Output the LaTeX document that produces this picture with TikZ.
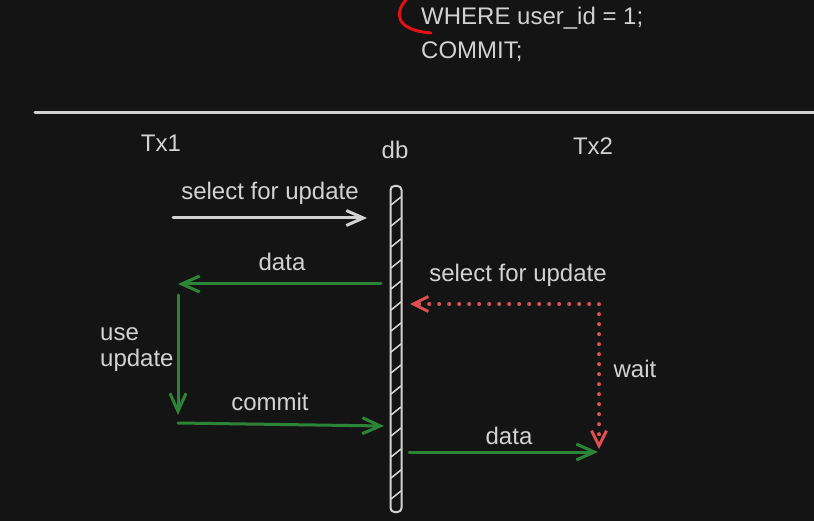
\documentclass[tikz,border=0pt]{standalone}
\usepackage{fontspec}
\setmainfont{Liberation Sans}
\usetikzlibrary{arrows.meta}

\definecolor{board}{HTML}{141414}
\definecolor{chalk}{HTML}{D2D2D2}
\definecolor{txgreen}{HTML}{2C8537}
\definecolor{waitred}{HTML}{E05050}
\definecolor{pen}{HTML}{E01212}

\begin{document}
\begin{tikzpicture}[x=1pt, y=-1pt,
    lbl/.style={text=chalk, font=\fontsize{24}{26}\selectfont, inner sep=0pt},
    msg/.style={-{Straight Barb[length=18pt,width=16pt]}, line width=3pt, txgreen, line cap=round},
    req/.style={-{Straight Barb[length=17pt,width=15pt]}, line width=3pt, chalk, line cap=round},
    waitline/.style={{Straight Barb[length=15pt,width=15pt,line width=3pt]}-{Straight Barb[length=15pt,width=15pt,line width=3pt]}, waitred, line width=4pt, line cap=round, dash pattern=on 0pt off 10pt},
    dbbar/.style={rectangle, rounded corners=4pt, draw=chalk, line width=2pt, fill=board, minimum width=11pt, minimum height=326pt, inner sep=0pt},
    hatch/.style={chalk, line width=1.5pt}
]
    % Board
    \useasboundingbox (0,0) rectangle (814,521);
    \fill[board] (0,0) rectangle (814,521);

    % Query text
    \node[lbl, anchor=west] (where) at (421,18) {WHERE user\_id = 1;};
    \node[lbl, anchor=west] (commitq) at (421,52) {COMMIT;};
    \draw[pen, line width=3pt, line cap=round] (406,0) .. controls (395,12) and (394,30) .. (431,33);

    % Separator
    \draw[chalk, line width=3pt, line cap=round] (35,113) -- (814,113);

    % Actors
    \node[lbl] (tx1) at (161,143) {Tx1};
    \node[lbl] (db) at (395,150) {db};
    \node[lbl] (tx2) at (593,146) {Tx2};

    % Lifeline of db
    \node[dbbar] (bar) at (396,349) {};
    \foreach \y in {205,226,...,505}
        \draw[hatch] (391,\y) -- (401,\y-8);

    % Anchor points
    \coordinate (s1) at (173,218);
    \coordinate (s2) at (367,218);
    \coordinate (d1) at (381,284);
    \coordinate (d2) at (178,284);
    \coordinate (u1) at (178,295);
    \coordinate (u2) at (178,415);
    \coordinate (c1) at (178,423);
    \coordinate (c2) at (384,426);
    \coordinate (w1) at (599,449);
    \coordinate (w2) at (599,304);
    \coordinate (w3) at (410,304);
    \coordinate (e1) at (409,452);
    \coordinate (e2) at (598,452);

    % Tx1 flow
    \draw[req] (s1) -- (s2);
    \draw[msg] (d1) -- (d2);
    \draw[msg] (u1) -- (u2);
    \draw[msg] (c1) -- (c2);

    % Tx2 flow
    \draw[waitline] (w1) -- (w2) -- (w3);
    \draw[msg] (e1) -- (e2);

    % Labels
    \node[lbl] (lsel1) at (270,193) {select for update};
    \node[lbl] (ldata1) at (282,262) {data};
    \node[lbl, anchor=west, align=left] (luse) at (100,350) {use\\update};
    \node[lbl] (lcommit) at (270,402) {commit};
    \node[lbl] (lsel2) at (518,275) {select for update};
    \node[lbl] (lwait) at (635,369) {wait};
    \node[lbl] (ldata2) at (509,436) {data};
\end{tikzpicture}
\end{document}
